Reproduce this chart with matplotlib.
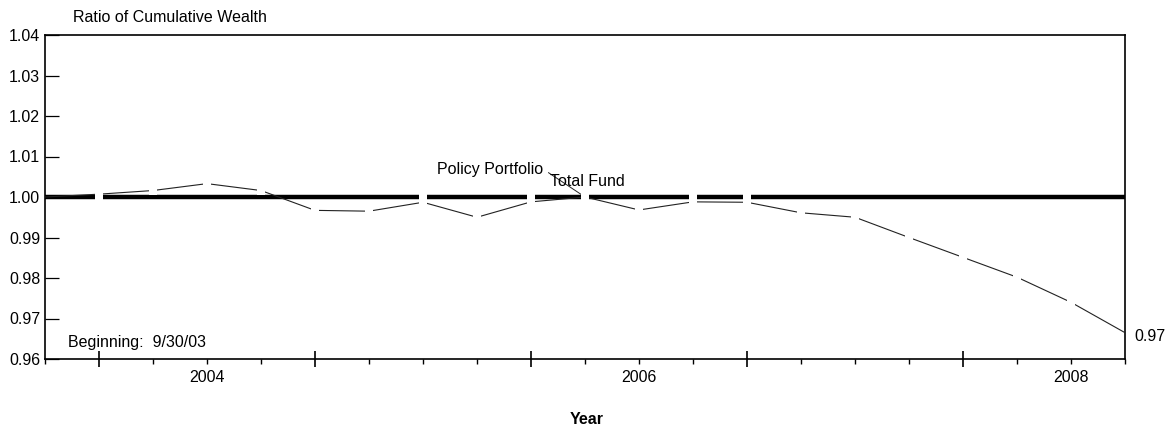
from matplotlib import pyplot as plt
from matplotlib import ticker
import numpy as np

plt.rcParams[ 'font.family' ] = 'Liberation Sans'

# quarter ends from 9/30/03 to 9/30/08, as fractional years
quarters = 2003.75 + 0.25 * np.arange( 21 )

# ratio of cumulative wealth
policy_portfolio = [ 1.0 ] * 21
total_fund = [ 1.0000 , 1.0007 , 1.0016 , 1.0033 , 1.0016 , 0.9967 , 0.9965 , 0.9987 ,
               0.9950 , 0.9988 , 1.0000 , 0.9968 , 0.9988 , 0.9987 , 0.9961 , 0.9950 ,
               0.9900 , 0.9851 , 0.9802 , 0.9740 , 0.9665 ]

year_ticks = [ 2004 , 2005 , 2006 , 2007 , 2008 ]
year_labels = { 2004.5 : '2004' , 2006.5 : '2006' , 2008.5 : '2008' }
y_ticks = [ 0.96 , 0.97 , 0.98 , 0.99 , 1.00 , 1.01 , 1.02 , 1.03 , 1.04 ]

pp = np.array( policy_portfolio )
tf = np.array( total_fund )

fig = plt.figure( figsize = ( 11.74 , 4.30 ) , dpi = 100 )
ax = fig.add_axes( [ 45 / 1174 , 1 - 359 / 430 , 1080 / 1174 , 324 / 430 ] )

ax.plot( quarters , pp , color = 'black' , lw = 3.2 , solid_capstyle = 'butt' , zorder = 2 )
ax.plot( quarters , tf , color = '#222222' , lw = 0.8 , zorder = 3 )

# the old plotter leaves small blank gaps round every vertex of the thin line
ax.plot( quarters[ 1 : -1 ] , tf[ 1 : -1 ] , 's' , color = 'white' , ms = 6 , mew = 0 , zorder = 4 )
near = np.abs( tf - pp ) < 0.0015
near[ 0 ] = near[ -1 ] = False
ax.plot( quarters[ near ] , pp[ near ] , 's' , color = 'white' , ms = 6 , mew = 0 , zorder = 4 )

ax.set_xlim( quarters[ 0 ] , quarters[ -1 ] )
ax.set_ylim( 0.96 , 1.04 )

ax.set_yticks( y_ticks )
ax.yaxis.set_major_formatter( ticker.FormatStrFormatter( '%.2f' ) )
ax.tick_params( axis = 'y' , direction = 'in' , length = 10 , width = 0.9 , pad = 3.5 , labelsize = 11.5 )

ax.set_xticks( year_ticks )
ax.set_xticklabels( [ '' ] * len( year_ticks ) )
ax.set_xticks( [ q for q in quarters if q not in year_ticks ] , minor = True )
ax.xaxis.set_minor_formatter( ticker.FuncFormatter( lambda v , p : year_labels.get( round( v , 2 ) , '' ) ) )
ax.tick_params( axis = 'x' , which = 'major' , direction = 'inout' , length = 12 , width = 1.2 )
ax.tick_params( axis = 'x' , which = 'minor' , direction = 'out' , length = 3.6 , width = 1.0 , pad = 4.5 , labelsize = 11.5 )

for s in ax.spines.values() :
    s.set_linewidth( 1.2 )

ax.annotate( 'Policy Portfolio' , xy = ( quarters[ 10 ] , pp[ 10 ] ) , xytext = ( -30 , 20 ) ,
             textcoords = 'offset points' , ha = 'right' , va = 'center' , fontsize = 11.5 ,
             arrowprops = dict( arrowstyle = '-' , lw = 0.7 , color = '#222222' , relpos = ( 1 , 0.5 ) ,
                                shrinkA = 2 , shrinkB = 0 ) )
ax.annotate( 'Total Fund' , xy = ( quarters[ 10 ] , pp[ 10 ] ) , xytext = ( -25 , 7.6 ) ,
             textcoords = 'offset points' , ha = 'left' , va = 'baseline' , fontsize = 11.5 )
ax.annotate( '%.2f' % tf[ -1 ] , xy = ( quarters[ -1 ] , tf[ -1 ] ) , xytext = ( 7 , -3 ) ,
             textcoords = 'offset points' , ha = 'left' , va = 'center' , fontsize = 11.5 , annotation_clip = False )

ax.text( 23 / 1080 , 16 / 324 , 'Beginning:  9/30/03' , transform = ax.transAxes , va = 'center' , fontsize = 11.5 )

fig.text( 73 / 1174 , 1 - 17 / 430 , 'Ratio of Cumulative Wealth' , va = 'center' , fontsize = 11.5 )
fig.text( 587 / 1174 , 1 - 420 / 430 , 'Year' , ha = 'center' , va = 'center' , fontsize = 11.5 , fontweight = 'bold' )

plt.savefig( 'out.png' , dpi = 100 )
